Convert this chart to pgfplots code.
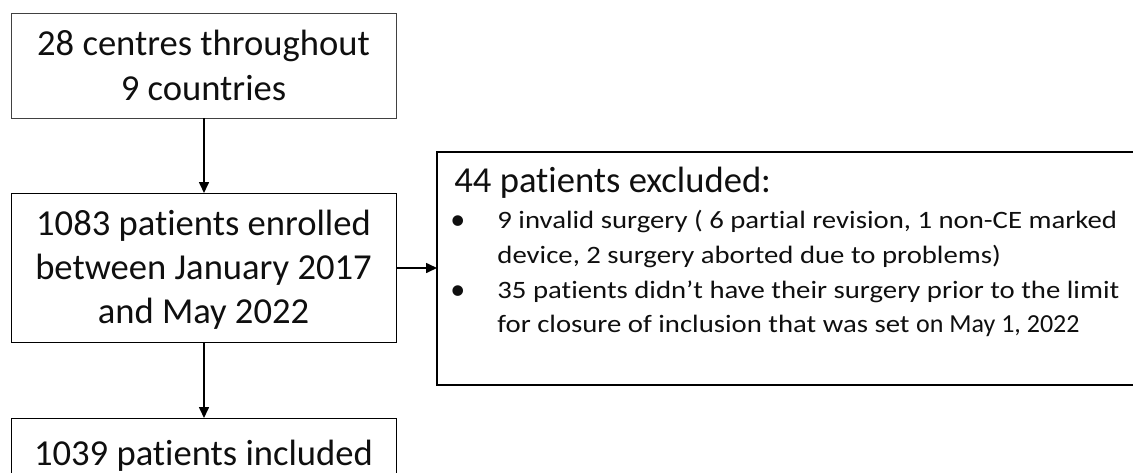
\documentclass[border=0pt]{standalone}
\usepackage{pgfplots}
\pgfplotsset{compat=1.18}
\usepackage{fontspec}
\setmainfont[Ligatures=NoCommon]{Carlito}
\newfontfamily\bulletfont[FakeStretch=1.15,Ligatures=NoCommon]{Carlito}
\usetikzlibrary{arrows.meta}
\definecolor{boxline}{RGB}{65,65,65}
\definecolor{txt}{RGB}{15,15,15}
\begin{document}
\begin{tikzpicture}
\begin{axis}[
  name=ax, at={(0,0)}, anchor=south west,
  width=566.5pt, height=236pt, scale only axis,
  xmin=0, xmax=1133, ymin=0, ymax=472, y dir=reverse,
  hide axis, clip=true,
  cycle list={{boxline, no markers, line width=1pt, line join=miter}},
]
% boxes
\addplot coordinates {(11,13) (396,13) (396,118) (11,118) (11,13)};
\addplot coordinates {(11,193) (396,193) (396,342) (11,342) (11,193)};
\addplot coordinates {(1140,152) (437,152) (437,385) (1140,385)};
\addplot coordinates {(11,480) (11,418) (396,418) (396,480)};
% arrows
\addplot[line width=0.8pt, -{Triangle[length=5.5pt,width=5pt]}] coordinates {(204,118) (204,193)};
\addplot[line width=0.8pt, -{Triangle[length=5.5pt,width=5pt]}] coordinates {(396,268) (437,268)};
\addplot[line width=0.8pt, -{Triangle[length=5.5pt,width=5pt]}] coordinates {(204,342) (204,418)};
% main box texts
\begin{scope}[every node/.style={anchor=base, inner sep=0pt, text=txt, font=\fontsize{18.3}{22}\selectfont}]
\node at (axis cs:203.5,55) {28 centres throughout};
\node at (axis cs:203.5,100) {9 countries};
\node at (axis cs:203.5,235) {1083 patients enrolled};
\node at (axis cs:203.5,279) {between January 2017};
\node at (axis cs:203.5,323) {and May 2022};
\node at (axis cs:203.5,465) {1039 patients included};
\node[anchor=base west] at (axis cs:454,192) {44 patients excluded:};
\end{scope}
\begin{scope}[every node/.style={anchor=base west, inner sep=0pt, text=txt, font=\bulletfont\fontsize{12.5}{15}\selectfont}]
\node[font=\fontsize{15}{15}\selectfont] at (axis cs:450,229) {•};
\node at (axis cs:497,228) {9 invalid surgery ( 6 partial revision, 1 non-CE marked};
\node at (axis cs:497,263) {device, 2 surgery aborted due to problems)};
\node[font=\fontsize{15}{15}\selectfont] at (axis cs:450,299) {•};
\node at (axis cs:497,298) {35 patients didn’t have their surgery prior to the limit};
\node at (axis cs:497,332) {for closure of inclusion that was set {\normalfont\fontsize{13}{15}\selectfont on May 1, 2022}};
\end{scope}
\end{axis}
\pgfresetboundingbox
\path (ax.south west) rectangle (ax.north east);
\end{tikzpicture}
\end{document}
